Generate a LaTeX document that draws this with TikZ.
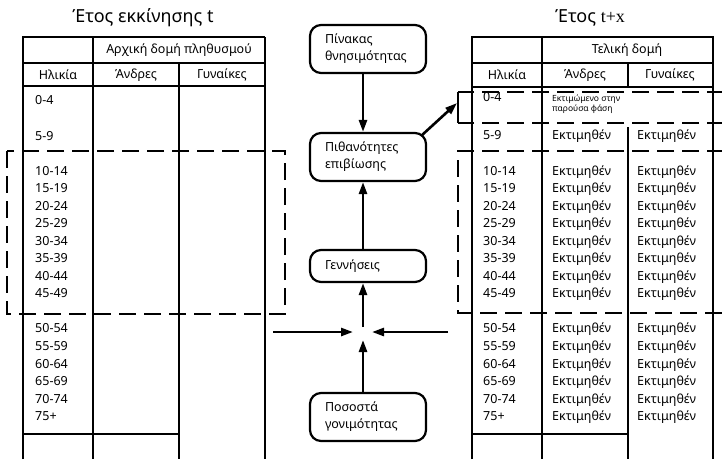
\documentclass[tikz,border=0pt]{standalone}
\usepackage{fontspec}
\setmainfont{Noto Sans}
\usetikzlibrary{arrows.meta,calc}
\begin{document}
\begin{tikzpicture}[x=1pt,y=-1pt,
  tbl/.style={line width=2.8pt},
  thin/.style={line width=1.9pt},
  dsh/.style={line width=2.7pt,dash pattern=on 17pt off 8pt},
  box/.style={draw,line width=2.2pt,rounded corners=11pt,minimum width=116pt,
    text width=86pt,inner xsep=15pt,align=left,font=\fontsize{12.5}{17}\selectfont},
  arr/.style={line width=2.6pt,-{Triangle[length=12pt,width=8pt]}},
  txt/.style={inner sep=0pt,font=\fontsize{12.5}{15}\selectfont},
  ttl/.style={inner sep=0pt,font=\fontsize{18}{21}\selectfont},
  sml/.style={inner sep=0pt,align=left,font=\fontsize{8.5}{10}\selectfont}]
\useasboundingbox (0,0) rectangle (722,459);

% ---------- left table ----------
\node[ttl] (tL) at (143,18) {Έτος εκκίνησης t};
\draw[tbl] (23,459) -- (23,37) -- (265,37);
\draw[tbl] (93,37) -- (93,459);
\draw[tbl] (179,63) -- (179,459);
\draw[thin] (265,37) -- (265,459);
\draw[tbl] (23,63) -- (265,63);
\draw[tbl] (23,86) -- (265,86);
\draw[tbl] (23,434) -- (179,434);
\node[txt] (hL0) at (179,50) {Αρχική δομή πληθυσμού};
\node[txt] (hL1) at (58,75) {Ηλικία};
\node[txt] (hL2) at (136,75) {Άνδρες};
\node[txt] (hL3) at (222,75) {Γυναίκες};
\node[txt,anchor=base west] (aL1) at (35,104) {0-4};
\node[txt,anchor=base west] (aL2) at (35,140) {5-9};
\foreach \a [count=\i from 0] in {10-14,15-19,20-24,25-29,30-34,35-39,40-44,45-49,,50-54,55-59,60-64,65-69,70-74,75+}{
  \node[txt,anchor=base west] (aL\i x) at (35,{175+17.55*\i}) {\a};
}
\draw[dsh] (7,151) rectangle (285,314);

% ---------- right table ----------
\node[ttl] (tR) at (590,18) {Έτος \fontspec{Liberation Serif}t+x};
\draw[tbl] (472,459) -- (472,37) -- (713,37) -- (713,459);
\draw[tbl] (542,37) -- (542,459);
\draw[tbl] (628,63) -- (628,87);
\draw[tbl] (628,127) -- (628,459);
\draw[tbl] (472,63) -- (713,63);
\draw[tbl] (472,87) -- (713,87);
\draw[tbl] (472,434) -- (628,434);
\node[txt] (hR0) at (627,50) {Τελική δομή};
\node[txt] (hR1) at (507,75) {Ηλικία};
\node[txt] (hR2) at (585,75) {Άνδρες};
\node[txt] (hR3) at (670,75) {Γυναίκες};
\node[txt,anchor=base west] (aR1) at (483,101) {0-4};
\node[sml,anchor=north west] (est) at (552,95) {Εκτιμώμενο στην\\παρούσα φάση};
\node[txt,anchor=base west] (aR2) at (483,139) {5-9};
\node[txt,anchor=base west] (mR2) at (552,139) {Εκτιμηθέν};
\node[txt,anchor=base west] (fR2) at (637,139) {Εκτιμηθέν};
\foreach \a [count=\i from 0] in {10-14,15-19,20-24,25-29,30-34,35-39,40-44,45-49,,50-54,55-59,60-64,65-69,70-74,75+}{
  \node[txt,anchor=base west] (aR\i x) at (483,{175+17.55*\i}) {\a};
}
\foreach \i in {0,...,7,9,10,...,14}{
  \node[txt,anchor=base west] (mR\i x) at (552,{175+17.55*\i}) {Εκτιμηθέν};
  \node[txt,anchor=base west] (fR\i x) at (637,{175+17.55*\i}) {Εκτιμηθέν};
}
\draw[dsh] (724,92) -- (458,92);
\draw[dsh] (724,123) -- (458,123);
\draw[tbl] (458,92) -- (458,123);
\draw[dsh] (724,151) -- (458,151) -- (458,313) -- (724,313);

% ---------- centre flow ----------
\node[box,minimum height=48pt] (B1) at (368,49) {Πίνακας\\θνησιμότητας};
\node[box,minimum height=48pt] (B2) at (368,157) {Πιθανότητες\\επιβίωσης};
\node[box,minimum height=32pt] (B3) at (368,266) {Γεννήσεις};
\node[box,minimum height=48pt] (B4) at (368,417) {Ποσοστά\\γονιμότητας};
\coordinate (c) at (363,332);
\coordinate (cL) at (273,332);
\coordinate (cR) at (448,332);
\coordinate (tgt) at (457,103);

\draw[arr] (B1.south -| c) -- (B2.north -| c);
\draw[arr] (B3.north -| c) -- (B2.south -| c);
\draw[arr] ([yshift=5pt]c) -- (B3.south -| c);
\draw[arr] (B4.north -| c) -- ([yshift=-8pt]c);
\draw[arr] (cL) -- ([xshift=-10pt]c);
\draw[arr] (cR) -- ([xshift=9pt]c);
\draw[arr] ($(B2.north east)+(-6,4)$) -- (tgt);
\end{tikzpicture}
\end{document}
